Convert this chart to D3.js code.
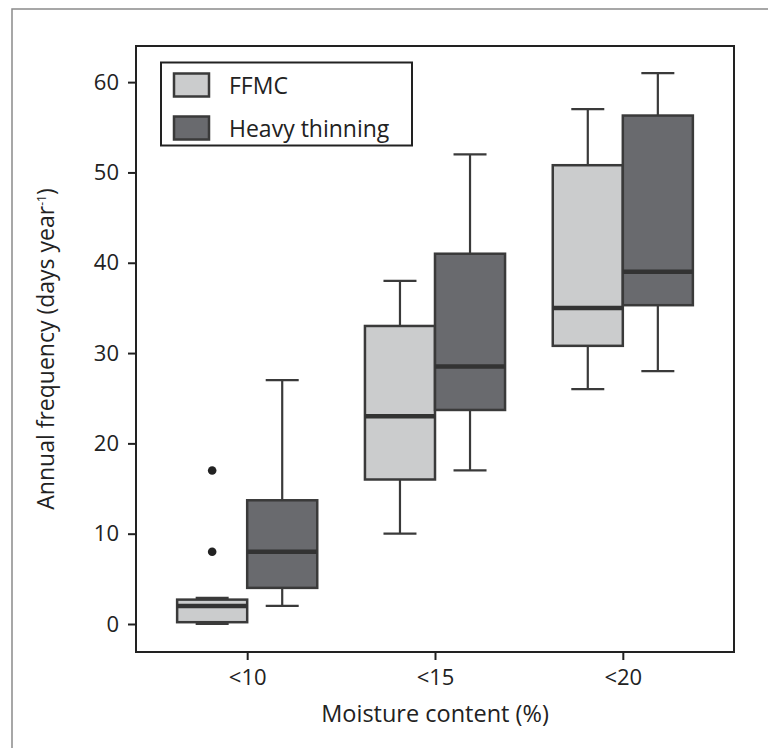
<!DOCTYPE html>
<html>
<head>
<meta charset="utf-8">
<script src="https://cdn.jsdelivr.net/npm/d3@7"></script>
<style>
  body { margin: 0; background: #fff; }
  svg { font-family: "Open Sans", "Noto Sans", sans-serif; }
</style>
</head>
<body>
<div id="chart"></div>
<script>
var groups = ["<10", "<15", "<20"];
var seriesNames = ["FFMC", "Heavy thinning"];
var yTicks = [0, 10, 20, 30, 40, 50, 60];

// [min, q1, median, q3, max] per group
var ffmcStats = [
  [0, 0.2, 2, 2.7, 2.9],
  [10, 16, 23, 33, 38],
  [26, 30.8, 35, 50.8, 57]
];
var heavyStats = [
  [2, 4, 8, 13.7, 27],
  [17, 23.7, 28.5, 41, 52],
  [28, 35.3, 39, 56.3, 61]
];
var ffmcOutliers = [[8, 17], [], []];
var heavyOutliers = [[], [], []];

var fills = ["#cbcccd", "#696a6e"];
var edge = "#3a3a3a";

var margin = {top: 46, right: 34, bottom: 96, left: 136},
    width = 768 - margin.left - margin.right,
    height = 748 - margin.top - margin.bottom;

var svg = d3.select("#chart").append("svg")
    .attr("width", 768)
    .attr("height", 748);

// outer frame of the figure
svg.append("rect")
    .attr("x", 12).attr("y", 9)
    .attr("width", 800).attr("height", 800)
    .style("fill", "none")
    .style("stroke", "#8a8a8a")
    .style("stroke-width", 1.5);

var g = svg.append("g")
    .attr("transform", "translate(" + margin.left + "," + margin.top + ")");

var x = d3.scalePoint()
    .domain(groups)
    .range([0, width])
    .padding(0.592);

var y = d3.scaleLinear()
    .domain([-3.1, 64])
    .range([height, 0]);

var boxW = x.step() * 0.373;
var capW = 33;

var series = [
  {name: seriesNames[0], stats: ffmcStats, out: ffmcOutliers, fill: fills[0], off: -boxW / 2},
  {name: seriesNames[1], stats: heavyStats, out: heavyOutliers, fill: fills[1], off: boxW / 2}
];

series.forEach(function(s) {
  var b = g.append("g").selectAll("g")
      .data(groups.map(function(k, i) { return {key: k, v: s.stats[i], out: s.out[i]}; }))
    .enter().append("g")
      .attr("transform", function(d) { return "translate(" + (x(d.key) + s.off) + ",0)"; });

  // whiskers
  b.append("line")
      .attr("y1", function(d) { return y(d.v[4]); })
      .attr("y2", function(d) { return y(d.v[3]); })
      .style("stroke", edge).style("stroke-width", 2.2);
  b.append("line")
      .attr("y1", function(d) { return y(d.v[1]); })
      .attr("y2", function(d) { return y(d.v[0]); })
      .style("stroke", edge).style("stroke-width", 2.2);
  b.selectAll(".cap")
      .data(function(d) { return [d.v[0], d.v[4]]; })
    .enter().append("line")
      .attr("class", "cap")
      .attr("x1", -capW / 2).attr("x2", capW / 2)
      .attr("y1", function(v) { return y(v); })
      .attr("y2", function(v) { return y(v); })
      .style("stroke", edge).style("stroke-width", 2.2);

  // box
  b.append("rect")
      .attr("x", -boxW / 2)
      .attr("width", boxW)
      .attr("y", function(d) { return y(d.v[3]); })
      .attr("height", function(d) { return y(d.v[1]) - y(d.v[3]); })
      .style("fill", s.fill)
      .style("stroke", edge)
      .style("stroke-width", 2.5);

  // median
  b.append("line")
      .attr("x1", -boxW / 2).attr("x2", boxW / 2)
      .attr("y1", function(d) { return y(d.v[2]); })
      .attr("y2", function(d) { return y(d.v[2]); })
      .style("stroke", "#333")
      .style("stroke-width", 4.5);

  // outliers
  b.selectAll("circle")
      .data(function(d) { return d.out; })
    .enter().append("circle")
      .attr("cy", function(v) { return y(v); })
      .attr("r", 4.3)
      .style("fill", "#222");
});

// plot frame
g.append("rect")
    .attr("width", width).attr("height", height)
    .style("fill", "none")
    .style("stroke", "#222")
    .style("stroke-width", 2);

var yAxis = g.append("g")
    .call(d3.axisLeft(y).tickValues(yTicks).tickSize(8).tickPadding(9));
var xAxis = g.append("g")
    .attr("transform", "translate(0," + height + ")")
    .call(d3.axisBottom(x).tickSize(8).tickPadding(9));

[yAxis, xAxis].forEach(function(a) {
  a.select(".domain").remove();
  a.selectAll("line").style("stroke", "#222").style("stroke-width", 2);
  a.selectAll("text").style("font-size", "22px").style("fill", "#222")
      .style("font-family", "'Open Sans', sans-serif");
});

g.append("text")
    .attr("x", width / 2)
    .attr("y", height + 70)
    .attr("text-anchor", "middle")
    .style("font-size", "23.5px").style("fill", "#222")
    .text("Moisture content (%)");

var yl = g.append("text")
    .attr("transform", "translate(" + (-82) + "," + (height / 2) + ") rotate(-90)")
    .attr("text-anchor", "middle")
    .style("font-size", "23px").style("fill", "#222");
yl.append("tspan").text("Annual frequency (days year");
yl.append("tspan").attr("dy", -8).style("font-size", "12px").text("-1");
yl.append("tspan").attr("dy", 8).text(")");

// legend
var lg = svg.append("g").attr("transform", "translate(161,62.5)");
lg.append("rect")
    .attr("width", 251).attr("height", 83)
    .style("fill", "#fff")
    .style("stroke", "#222")
    .style("stroke-width", 2);
var li = lg.selectAll(".item")
    .data(series)
  .enter().append("g")
    .attr("class", "item")
    .attr("transform", function(d, i) { return "translate(13," + (11 + i * 43) + ")"; });
li.append("rect")
    .attr("width", 35).attr("height", 23)
    .style("fill", function(d) { return d.fill; })
    .style("stroke", edge)
    .style("stroke-width", 2.5);
li.append("text")
    .attr("x", 55).attr("y", 12)
    .attr("dy", "0.36em")
    .style("font-size", "23px").style("fill", "#222")
    .text(function(d) { return d.name; });
</script>
</body>
</html>
